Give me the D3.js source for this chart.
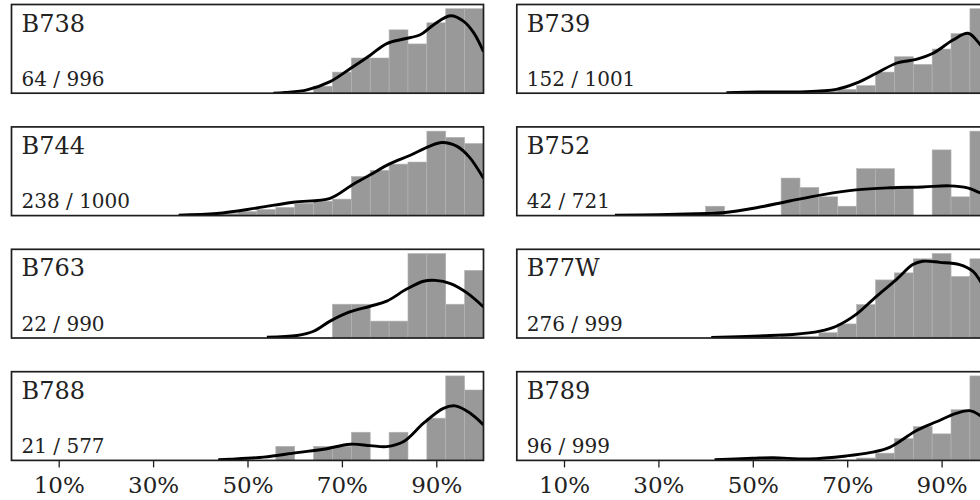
<!DOCTYPE html>
<html>
<head>
<meta charset="utf-8">
<script src="https://cdn.jsdelivr.net/npm/d3@7/dist/d3.min.js"></script>
<style>
  body { margin: 0; background: #fff; }
  svg { display: block; }
  text { font-family: "DejaVu Serif", serif; fill: #222; }
</style>
</head>
<body>
<svg id="chart" width="980" height="500"></svg>
<script>
// aircraft types, in panel order (left, right, left, right ...)
var models = ["B738", "B739", "B744", "B752", "B763", "B77W", "B788", "B789"];
var sampled = [64, 152, 238, 42, 22, 276, 21, 96];
var totals = [996, 1001, 1000, 721, 990, 999, 577, 999];

// 4% wide bins, start of each bin
var binStarts = [40, 44, 48, 52, 56, 60, 64, 68, 72, 76, 80, 84, 88, 92, 96];
var binWidth = 4;

// counts per bin, same order as binStarts
var histCounts = [
  [0, 0, 0, 0, 0, 0, 1, 3, 5, 5, 9, 7, 10, 12, 12],          // B738
  [0, 0, 1, 0, 1, 0, 1, 2, 4, 11, 19, 15, 23, 31, 44],       // B739
  [1, 1, 2, 3, 4, 6, 7, 8, 19, 22, 25, 26, 41, 38, 35],      // B744
  [1, 0, 0, 0, 4, 3, 2, 1, 5, 5, 3, 0, 7, 2, 9],             // B752
  [0, 0, 0, 0, 0, 0, 0, 2, 2, 1, 1, 5, 5, 2, 4],             // B763
  [0, 0, 1, 0, 1, 1, 3, 8, 19, 33, 37, 45, 48, 35, 45],      // B77W
  [0, 0, 0, 0, 1, 0, 1, 1, 2, 0, 2, 0, 3, 6, 5],             // B788
  [0, 0, 1, 1, 0, 0, 0, 0, 1, 3, 9, 14, 11, 21, 35]          // B789
];

// density curves, [percent, value in bin-count units]
var kdeCurves = [
  [[55.5, 0], [58, 0.1], [62.6, 0.47], [67.5, 1.64], [71.8, 3.5], [76, 5.4], [79.5, 7.05], [83.1, 7.7], [86.6, 8.3], [89.4, 9.7], [93, 11.0], [95.8, 10.2], [97.9, 8.6], [100, 5.9]],
  [[44.4, 0.2], [51.5, 0.6], [60, 0.7], [67.7, 2.0], [71.9, 5.2], [76.2, 10.4], [80.4, 15.6], [84.6, 17.6], [88.2, 20.8], [92.4, 27.7], [95.6, 31.2], [98, 25.9], [100, 19]],
  [[35.4, 0.2], [43.5, 1.0], [52, 3.7], [59.7, 6.5], [67.5, 8.4], [72, 14.6], [76, 19.8], [80, 25], [84.5, 29.3], [88.5, 33.6], [91.2, 35.5], [94.4, 33.6], [97, 28.4], [100, 18.1]],
  [[20.8, 0.05], [30, 0.1], [40.2, 0.22], [43.7, 0.3], [50.8, 0.84], [57.8, 1.56], [64.9, 2.24], [71.9, 2.74], [79, 2.96], [86, 3.05], [91.7, 3.17], [95.5, 2.95], [98, 2.46], [100, 2.0]],
  [[54.1, 0.05], [60.5, 0.15], [64, 0.4], [67.5, 1.0], [71.1, 1.49], [76, 1.88], [79.5, 2.18], [83.8, 2.91], [87.3, 3.36], [89.8, 3.41], [93, 3.22], [96.5, 2.67], [100, 1.84]],
  [[41.2, 0.3], [51.5, 1.2], [58.5, 2.0], [64.2, 3.9], [67.7, 6.7], [71.9, 13.4], [76.2, 23.7], [80.4, 33.2], [83.9, 41.7], [86, 43.6], [89.6, 43], [93.8, 41.7], [96.6, 38], [98, 33.2], [100, 23]],
  [[43.8, 0.05], [46.3, 0.085], [53.4, 0.23], [60.5, 0.55], [66.1, 0.79], [71.8, 1.15], [76, 1.05], [79.5, 0.98], [83.1, 1.34], [87.3, 2.64], [91.5, 3.7], [94, 3.87], [97.2, 3.35], [100, 2.52]],
  [[41.9, 0.3], [50, 0.88], [54.3, 1.1], [62, 0.6], [69.8, 1.84], [74.8, 3.2], [79, 5.4], [84.6, 12.3], [88.9, 16], [93.1, 19.5], [95.9, 20.6], [98, 18.8], [100, 15]]
];

var tickValues = [10, 30, 50, 70, 90];
var tickLabels = ["10%", "30%", "50%", "70%", "90%"];

var svg = d3.select("#chart");

var panelW = 472, panelH = 88.7,
    rowPitch = 122.4, top0 = 4.5,
    colX = [11.5, 516.8];

models.forEach(function(m, i) {
  var col = i % 2, row = Math.floor(i / 2);
  var counts = histCounts[i], kde = kdeCurves[i];

  var x = d3.scaleLinear().domain([0, 100]).range([0, panelW]);
  var ymax = Math.max(d3.max(counts), d3.max(kde, function(d) { return d[1]; })) * 1.05;
  var y = d3.scaleLinear().domain([0, ymax]).range([panelH, 0]);

  var g = svg.append("g")
    .attr("transform", "translate(" + colX[col] + "," + (top0 + row * rowPitch) + ")");

  g.append("clipPath").attr("id", "clip" + i)
    .append("rect").attr("width", panelW).attr("height", panelH);

  var plot = g.append("g").attr("clip-path", "url(#clip" + i + ")");

  var bars = binStarts.map(function(b, j) { return {start: b, count: counts[j]}; })
    .filter(function(d) { return d.count > 0; });

  plot.selectAll("rect.bar")
    .data(bars)
    .enter().append("rect")
    .attr("class", "bar")
    .attr("x", function(d) { return x(d.start); })
    .attr("width", function(d) { return x(d.start + binWidth) - x(d.start); })
    .attr("y", function(d) { return y(d.count); })
    .attr("height", function(d) { return panelH - y(d.count); })
    .attr("fill", "#999")
    .attr("stroke", "#b4b4b4")
    .attr("stroke-width", 0.6);

  var line = d3.line()
    .x(function(d) { return x(d[0]); })
    .y(function(d) { return y(d[1]); })
    .curve(d3.curveCatmullRom.alpha(0.5));

  plot.append("path")
    .datum(kde)
    .attr("d", line)
    .attr("fill", "none")
    .attr("stroke", "#000")
    .attr("stroke-width", 2.9)
    .attr("stroke-linejoin", "round");

  g.append("rect")
    .attr("width", panelW).attr("height", panelH)
    .attr("fill", "none")
    .attr("stroke", "#1e1e1e")
    .attr("stroke-width", 1.7);

  g.append("text")
    .attr("x", 10).attr("y", 27.2)
    .style("font-size", "24px")
    .text(m);

  g.append("text")
    .attr("x", 10).attr("y", panelH - 7.2)
    .style("font-size", "20px")
    .text(sampled[i] + " / " + totals[i]);

  if (row === 3) {
    var axis = d3.axisBottom(x)
      .tickValues(tickValues)
      .tickFormat(function(d, k) { return tickLabels[k]; })
      .tickSize(7)
      .tickSizeOuter(0)
      .tickPadding(9);
    var ax = g.append("g")
      .attr("transform", "translate(0," + panelH + ")")
      .call(axis);
    ax.select(".domain").remove();
    ax.selectAll(".tick line").attr("stroke", "#1e1e1e").attr("stroke-width", 1.3);
    ax.selectAll(".tick text")
      .style("font-family", "'DejaVu Serif', serif")
      .style("font-size", "23px")
      .attr("fill", "#222");
  }
});
</script>
</body>
</html>
